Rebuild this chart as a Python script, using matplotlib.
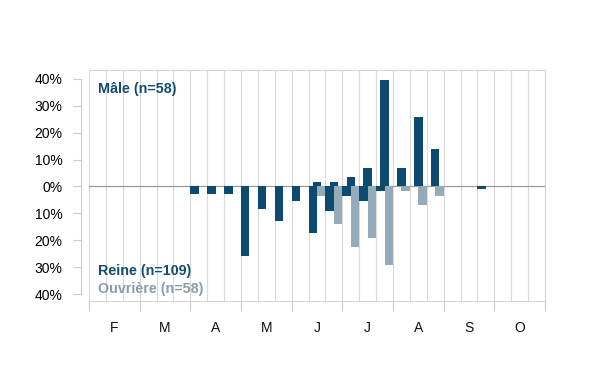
import matplotlib
matplotlib.use("Agg")
import matplotlib.pyplot as plt
import numpy as np

plt.rcParams['font.family'] = ['Liberation Sans', 'DejaVu Sans']

months = ["F", "M", "A", "M", "J", "J", "A", "S", "O"]
# 27 ten-day periods (3 per month), values in %
male = [0, 0, 0, 0, 0, 0, 0, 0, 0, 0, 0, 0, 0, 1.7, 1.7, 3.4, 6.9, 39.7, 6.9, 25.9, 13.8, 0, 0, 0, 0, 0, 0]
reine = [0, 0, 0, 0, 0, 0, 2.8, 2.8, 2.8, 25.7, 8.3, 12.8, 5.5, 17.4, 9.2, 3.7, 5.5, 1.8, 0, 0, 0, 0, 0, 0.9, 0, 0, 0]
ouvriere = [0, 0, 0, 0, 0, 0, 0, 0, 0, 0, 0, 0, 0, 3.4, 13.8, 22.4, 19.0, 29.3, 1.7, 6.9, 3.4, 0, 0, 0, 0, 0, 0]
yticks = [-40, -30, -20, -10, 0, 10, 20, 30, 40]

dark = "#0d4a6f"
light = "#95aabb"

fig = plt.figure(figsize=(6, 3.9), dpi=100)
ax = fig.add_axes([89/600, 1-301/390, (545-89)/600, (301-70)/390])

n = len(male)
x = np.arange(n)
ax.bar(x + 0.25, male, width=0.5, align='edge', color=dark, zorder=3)
ax.bar(x, -np.array(reine), width=0.5, align='edge', color=dark, zorder=3)
ax.bar(x + 0.5, -np.array(ouvriere), width=0.5, align='edge', color=light, zorder=3)

for xv in range(n + 1):
    ax.axvline(xv, color="#dadada", lw=0.8, zorder=1)
ax.axhline(0, color="#9a9a9a", lw=0.9, zorder=2)

ax.set_xlim(0, n)
ax.set_ylim(-42.6, 43.3)

# y axis
ax.set_yticks(yticks)
ax.set_yticklabels([f"{abs(v)}%" for v in yticks], fontsize=9.2, color="#222222")
ax.spines['left'].set_position(('outward', 5.8))
ax.spines['left'].set_bounds(-40, 40)
ax.spines['left'].set_color("#cccccc")
ax.tick_params(axis='y', length=5.8, width=0.8, color="#cccccc", pad=7.5)

# x axis
ax.set_xticks(np.arange(0, n + 1, 3))
ax.set_xticklabels([])
ax.set_xticks(np.arange(1.5, n, 3), minor=True)
ax.set_xticklabels(months, minor=True, fontsize=10, color="#111111")
ax.tick_params(axis='x', which='major', length=7.5, width=0.8, color="#cccccc")
ax.tick_params(axis='x', which='minor', length=0, pad=14.5)

for s in ['top', 'right', 'bottom']:
    ax.spines[s].set_color("#d6d6d6")
    ax.spines[s].set_linewidth(0.8)

fig.text(98/600, 1-93.3/390, "Mâle (n=58)", fontsize=10.3, fontweight='bold', color="#124d72", va='baseline')
fig.text(98/600, 1-275/390, "Reine (n=109)", fontsize=10.3, fontweight='bold', color="#124d72", va='baseline')
fig.text(98/600, 1-293/390, "Ouvrière (n=58)", fontsize=10.3, fontweight='bold', color="#8b9dab", va='baseline')

fig.savefig("out.png", dpi=100)
